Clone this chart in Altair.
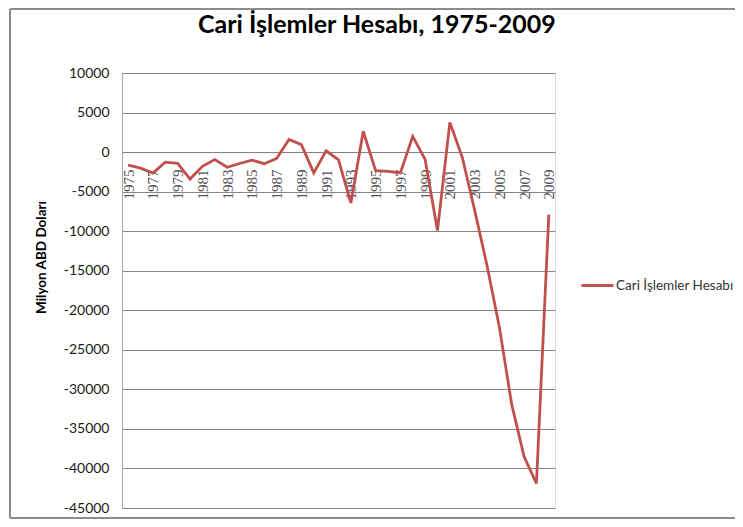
import altair as alt
import pandas as pd

# ---- data ----
years = list(range(1975, 2010))
balance = [
    -1648, -2029, -2650, -1265, -1413, -3408, -1800, -952, -1923, -1439,
    -1013, -1465, -806, 1596, 938, -2625, 150, -974, -6433, 2631,
    -2339, -2437, -2638, 1984, -925, -9920, 3760, -626, -7300, -14300,
    -22100, -31900, -38500, -41900, -7900,
]
label_years = list(range(1975, 2010, 2))
y_ticks = list(range(-45000, 10001, 5000))
series_name = "Cari İşlemler Hesabı"
title_text = "Cari İşlemler Hesabı, 1975-2009"
y_title = "Milyon ABD Doları"

df = pd.DataFrame({"year": years, "value": balance, "series": series_name})

W, H = 433, 435
Y_MIN, Y_MAX = -45000, 10000
zero_px = H * Y_MAX / (Y_MAX - Y_MIN)
GRID = "#868686"

line = alt.Chart(df).mark_line(strokeWidth=2.8).encode(
    x=alt.X(
        "year:O",
        scale=alt.Scale(type="point", padding=0.5),
        axis=alt.Axis(
            values=label_years,
            labelAngle=270,
            offset=-(H - zero_px),
            domainColor=GRID,
            domainWidth=1,
            ticks=False,
            labelPadding=17,
            labelFont="Liberation Serif",
            labelFontSize=15,
            labelColor="#555555",
            title=None,
            grid=False,
        ),
    ),
    y=alt.Y(
        "value:Q",
        scale=alt.Scale(domain=[Y_MIN, Y_MAX], nice=False, zero=False),
        axis=alt.Axis(
            values=y_ticks,
            labelExpr="'' + datum.value",
            labelFont="Lato",
            labelFontSize=14,
            labelColor="#1a1a1a",
            labelPadding=13,
            ticks=False,
            domainColor="#A6A6A6",
            domainWidth=1,
            grid=True,
            gridColor=GRID,
            gridWidth=1,
            title=y_title,
            titleFont="Lato",
            titleFontSize=13.5,
            titleFontWeight="bold",
            titleColor="#000000",
            titleAngle=270,
            titleX=-81,
            titleY=184,
            titleAlign="center",
            titleBaseline="middle",
        ),
    ),
    color=alt.Color(
        "series:N",
        scale=alt.Scale(range=["#C0504D"]),
        legend=alt.Legend(
            title=None,
            orient="none",
            legendX=458,
            legendY=195,
            symbolType="stroke",
            symbolSize=1024,
            symbolStrokeWidth=3,
            labelFont="Lato",
            labelFontSize=13.5,
            labelColor="#333333",
            labelOffset=1,
            padding=0,
        ),
    ),
)

frame_df = pd.DataFrame({"a": [0]})
frame_color = "#8C8C8C"
frame_left = alt.Chart(frame_df).mark_rule(color=frame_color, strokeWidth=2).encode(
    x=alt.value(-112), y=alt.value(-64), y2=alt.value(445)
)
frame_top = alt.Chart(frame_df).mark_rule(color=frame_color, strokeWidth=2).encode(
    x=alt.value(-112), x2=alt.value(W + 180), y=alt.value(-64)
)
frame_bottom = alt.Chart(frame_df).mark_rule(color=frame_color, strokeWidth=2).encode(
    x=alt.value(-112), x2=alt.value(W + 180), y=alt.value(445)
)

chart = (
    alt.layer(line, frame_left, frame_top, frame_bottom)
    .properties(
        width=W,
        height=H,
        title=alt.TitleParams(
            text=title_text,
            font="Lato",
            fontSize=25,
            fontWeight="bold",
            color="#000000",
            anchor="start",
            frame="group",
            baseline="alphabetic",
            dx=76,
            dy=50,
            offset=0,
        ),
        padding={"left": 114, "top": 65, "right": 180, "bottom": 11},
        autosize=alt.AutoSizeParams(type="none"),
    )
    .configure_view(stroke=None)
    .configure(background="white")
)

chart.save("out.html", embed_options={"renderer": "svg", "actions": False})
